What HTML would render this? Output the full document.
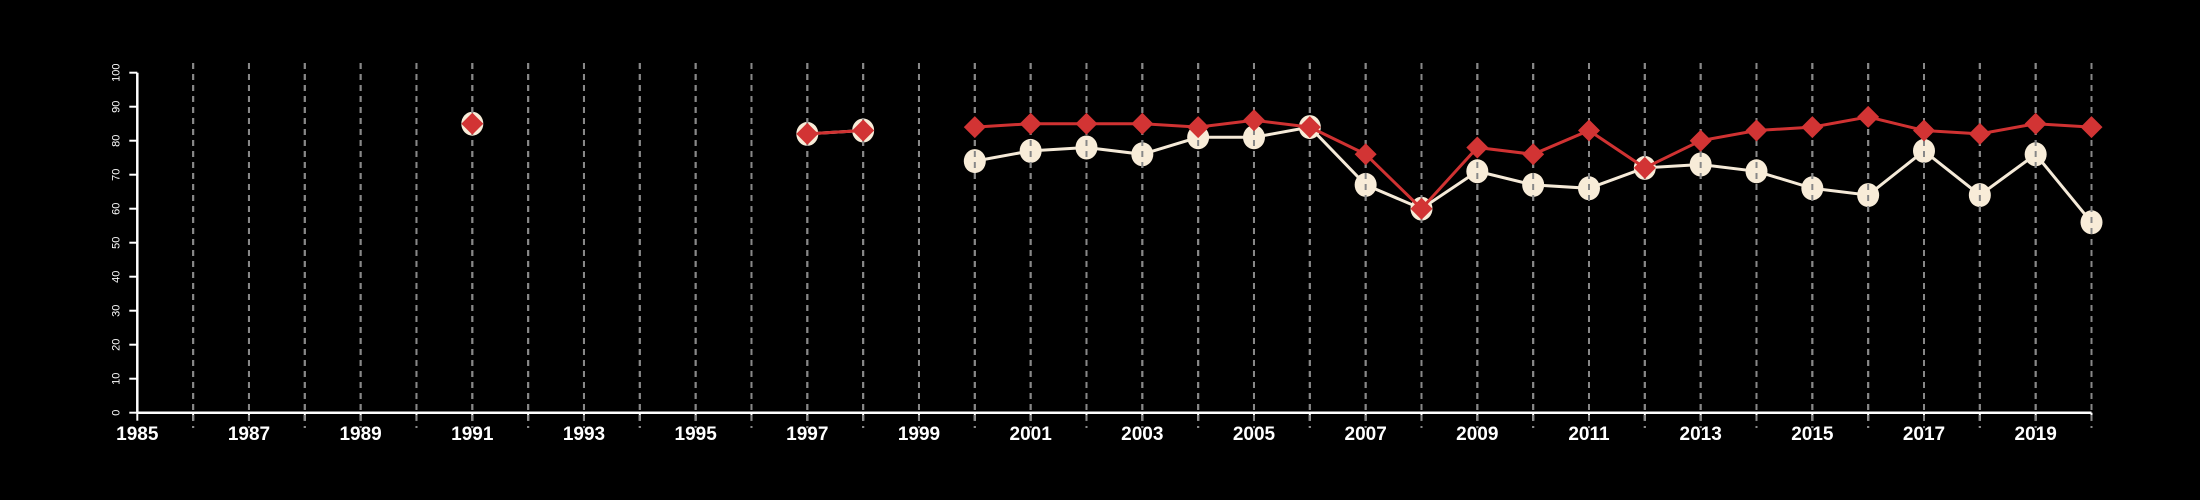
<!DOCTYPE html>
<html><head><meta charset="utf-8"><style>
html,body{margin:0;padding:0;background:#000;}
svg{display:block;font-family:"Liberation Sans",sans-serif;}
</style></head><body>
<svg id="chart" width="2200" height="500" viewBox="0 0 2200 500" xmlns="http://www.w3.org/2000/svg">
<rect width="2200" height="500" fill="#000"/>
<g id="grid"></g>
<g id="axes"></g>
<g id="series"></g>
</svg>
<script>
const years = [1991,1997,1998,2000,2001,2002,2003,2004,2005,2006,2007,2008,2009,2010,2011,2012,2013,2014,2015,2016,2017,2018,2019,2020];
const whiteValues = [85,82,83,74,77,78,76,81,81,84,67,60,71,67,66,72,73,71,66,64,77,64,76,56];
const redValues = [85,82,83,84,85,85,85,84,86,84,76,60,78,76,83,72,80,83,84,87,83,82,85,84];
const yTicks = [0,10,20,30,40,50,60,70,80,90,100];
const xTickLabels = [1985,1987,1989,1991,1993,1995,1997,1999,2001,2003,2005,2007,2009,2011,2013,2015,2017,2019];
const xMin = 1985, xMax = 2020, yMin = 0, yMax = 100;

const NS = "http://www.w3.org/2000/svg";
const X0 = 137.3, X1 = 2091.5, Y0 = 412.7, Y1 = 72.7;
function xs(v){return X0 + (v - xMin) / (xMax - xMin) * (X1 - X0);}
function ys(v){return Y0 - (v - yMin) / (yMax - yMin) * (Y0 - Y1);}
function mk(tag, attrs, parent){const e=document.createElementNS(NS,tag);for(const k in attrs)e.setAttribute(k,attrs[k]);parent.appendChild(e);return e;}

const grid = document.getElementById('grid');
const axes = document.getElementById('axes');
const series = document.getElementById('series');

// axis lines
let ax = mk('line',{x1:X0,y1:Y0,x2:X1,y2:Y0,stroke:'#fff','stroke-width':2.5},axes);


let ay = mk('line',{x1:X0,y1:Y0,x2:X0,y2:Y1,stroke:'#fff','stroke-width':2.5},axes);



for (const t of yTicks){
  const y = ys(t);
  const tk = mk('line',{x1:X0-8,y1:y,x2:X0,y2:y,stroke:'#fff','stroke-width':2},axes);
  
  
  const tx = mk('text',{x:0,y:0,fill:'#fff','font-size':11,'text-anchor':'middle',transform:`translate(${X0-18},${y}) rotate(-90)`},axes);
  
  
  tx.textContent = t;
}
for (let yr = xMin; yr <= xMax; yr++){
  const x = xs(yr);
  const tk = mk('line',{x1:x,y1:Y0,x2:x,y2:Y0+8,stroke:'#fff','stroke-width':2},axes);
  
  
  if (yr > xMin){
    const g = mk('line',{x1:x,y1:63,x2:x,y2:428,stroke:'#999','stroke-width':2,'stroke-dasharray':'6,5'},grid);
    
    
  }
}
for (const yr of xTickLabels){
  const tx = mk('text',{x:xs(yr),y:440,fill:'#fff','font-size':19,'font-weight':'bold','text-anchor':'middle'},axes);
  
  
  tx.textContent = yr;
}

function linePath(vals){
  let d='', prev=null;
  years.forEach((yr,i)=>{
    const cmd = (prev!==null && yr-prev===1) ? 'L' : 'M';
    d += cmd + xs(yr) + ',' + ys(vals[i]) + ' ';
    prev = yr;
  });
  return d;
}
// white series line + circles (placed below grid so dashes show through)
const wl = mk('path',{d:linePath(whiteValues),fill:'none',stroke:'#f5ead8','stroke-width':3},series);


years.forEach((yr,i)=>{
  const c = mk('ellipse',{cx:xs(yr),cy:ys(whiteValues[i]),rx:11,ry:12,fill:'#f8ecd8'},series);
  
  
});
// dashes over circles
for (let yr = xMin+1; yr <= xMax; yr++){
  const g = mk('line',{x1:xs(yr),y1:63,x2:xs(yr),y2:428,stroke:'#888','stroke-width':2,'stroke-dasharray':'6,5'},series);
  
  
}
const rl = mk('path',{d:linePath(redValues),fill:'none',stroke:'#d03232','stroke-width':3},series);


years.forEach((yr,i)=>{
  const x = xs(yr), y = ys(redValues[i]), s = 11;
  const p = mk('polygon',{points:`${x},${y-s} ${x+s},${y} ${x},${y+s} ${x-s},${y}`,fill:'#d23434'},series);
  
  
});
</script>
</body></html>
